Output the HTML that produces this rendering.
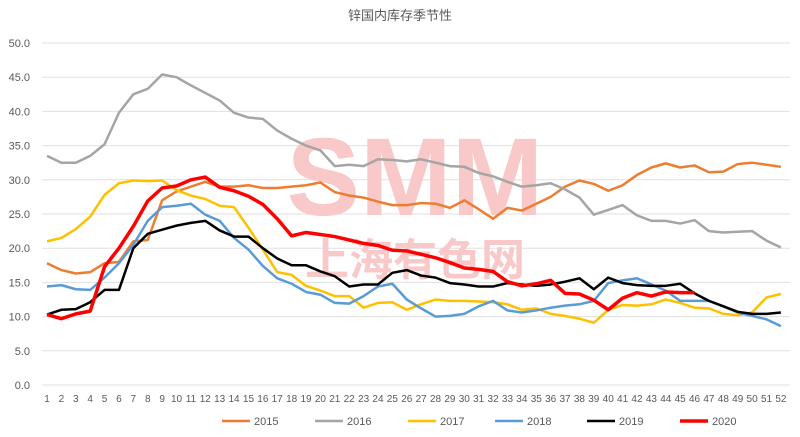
<!DOCTYPE html>
<html><head><meta charset="utf-8"><style>
body{margin:0;background:#fff;}
svg{display:block;font-family:"Liberation Sans","Noto Sans CJK SC",sans-serif;}
</style></head><body>
<svg id="c" width="800" height="437" xmlns="http://www.w3.org/2000/svg">
<rect width="800" height="437" fill="#fff"/>
<text x="400" y="20" font-size="13" fill="#595959" text-anchor="middle">锌国内库存季节性</text>
<g id="grid"></g>
<text x="415" y="215" font-size="110" font-weight="bold" fill="#f9c8c8" text-anchor="middle" font-family="Liberation Sans, sans-serif">SMM</text>
<text x="415" y="275" font-size="44" font-weight="bold" fill="#f9c8c8" text-anchor="middle">上海有色网</text>
<g id="series"></g>
<g id="legend" font-size="11" fill="#595959"></g>
</svg>
<script>
const ns="http://www.w3.org/2000/svg";
const X=n=>47+(n-1)*14.39, Y=v=>385-6.84*v;
const g=document.getElementById('grid');
function el(t,a,p,txt){const e=document.createElementNS(ns,t);for(const k in a)e.setAttribute(k,a[k]);if(txt!=null)e.textContent=txt;p.appendChild(e);return e;}
for(let v=0;v<=50;v+=5){el('line',{x1:42,x2:790,y1:Y(v),y2:Y(v),stroke:'#e0e0e0','stroke-width':1},g);
el('text',{x:30,y:Y(v)+4,'font-size':11,fill:'#595959','text-anchor':'end'},g,v.toFixed(1));}
for(let n=1;n<=52;n++)el('text',{x:X(n),y:402,'font-size':10,fill:'#595959','text-anchor':'middle'},g,n);
const S=[
['2015','#ed7d31',2.5,[17.8,16.8,16.3,16.5,17.8,18,21,21.2,27,28.3,29,29.7,29,29,29.2,28.8,28.8,29,29.2,29.6,28.2,27.7,27.4,26.8,26.3,26.3,26.6,26.5,25.9,27,25.7,24.3,25.9,25.5,26.5,27.5,29,29.9,29.4,28.4,29.2,30.7,31.8,32.4,31.8,32.1,31.1,31.2,32.3,32.5,32.2,31.9]],
['2016','#a5a5a5',2.5,[33.5,32.5,32.5,33.5,35.2,39.8,42.5,43.3,45.4,45,43.8,42.7,41.6,39.8,39.1,38.9,37.2,36,35,34.3,32,32.2,32,33,32.9,32.7,33,32.5,32,31.9,31,30.5,29.7,29,29.2,29.5,28.6,27.4,24.9,25.6,26.3,24.8,24,24,23.6,24.1,22.5,22.3,22.4,22.5,21.1,20.1]],
['2017','#ffc000',2.5,[21,21.5,22.8,24.6,27.8,29.5,29.9,29.8,29.9,28.5,27.7,27.2,26.2,26,23,19.8,16.5,16.1,14.5,13.8,13,13,11.3,12,12.1,11,11.8,12.5,12.3,12.3,12.2,12.1,11.8,11,11.2,10.4,10.1,9.7,9.1,11,11.7,11.6,11.8,12.5,12,11.3,11.2,10.4,10.2,10.6,12.8,13.3]],
['2018','#5b9bd5',2.5,[14.4,14.6,14,13.9,15.7,17.8,20.5,24,26,26.2,26.5,24.9,24,21.5,19.8,17.4,15.6,14.8,13.6,13.2,12,11.9,13,14.4,14.8,12.5,11.2,10,10.1,10.4,11.5,12.3,10.9,10.6,10.9,11.3,11.6,11.8,12.3,14.9,15.3,15.6,14.7,13.8,12.3,12.3,12.3,11.5,10.6,10.1,9.6,8.6]],
['2019','#000000',2.5,[10.3,11,11.1,12.1,13.9,13.9,20,22.1,22.7,23.3,23.7,24,22.6,21.7,21.7,20,18.5,17.5,17.5,16.6,15.9,14.4,14.7,14.7,16.4,16.8,16,15.7,14.9,14.7,14.4,14.4,14.9,14.7,14.5,14.7,15.1,15.6,14,15.7,14.9,14.6,14.5,14.5,14.8,13.4,12.3,11.5,10.7,10.4,10.4,10.6]],
['2020','#ff0000',3.5,[10.3,9.7,10.4,10.8,17.3,20,23.2,26.9,28.8,29.1,30,30.4,28.9,28.4,27.6,26.4,24.3,21.8,22.3,22,21.7,21.2,20.7,20.4,19.7,19.6,19.1,18.6,17.9,17.1,16.9,16.6,15.1,14.5,14.8,15.3,13.4,13.3,12.4,11,12.7,13.5,13,13.6,13.5,13.5]]
];
const sg=document.getElementById('series'),lg=document.getElementById('legend');
const lx=[222,315,408,495,587,680];
S.forEach((s,i)=>{el('polyline',{points:s[3].map((v,j)=>X(j+1)+','+Y(v)).join(' '),fill:'none',stroke:s[1],'stroke-width':s[2],'stroke-linejoin':'round'},sg);
el('line',{x1:lx[i],x2:lx[i]+28,y1:421,y2:421,stroke:s[1],'stroke-width':s[2]},lg);
el('text',{x:lx[i]+32,y:425},lg,s[0]);});
</script>
</body></html>
